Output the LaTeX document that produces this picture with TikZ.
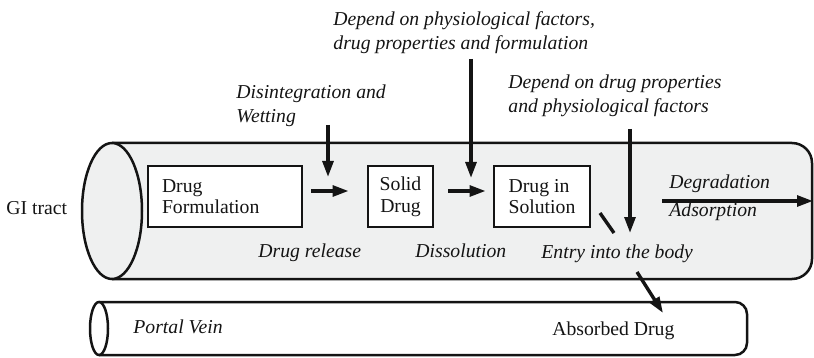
\documentclass[tikz,border=0pt]{standalone}
\usepackage{fontspec}
\setmainfont{Liberation Serif}
\usetikzlibrary{arrows.meta}
\definecolor{tubeGray}{RGB}{239,240,240}
\colorlet{Ink}{black!92}

\begin{document}
\begin{tikzpicture}[x=0.5pt,y=-0.5pt,
      tube/.style={draw=Ink,line width=1.25pt,fill=tubeGray},
      vein/.style={draw=Ink,line width=1.25pt,fill=white},
      stage/.style={draw=Ink,line width=1.4pt,fill=white,minimum height=30.5pt,
        inner sep=0pt,text=Ink,font=\fontsize{9.85}{10.8}\selectfont},
      flow/.style={-{Triangle[length=8pt,width=5.4pt]},line width=1.7pt,draw=Ink},
      note/.style={inner sep=0pt,align=left,text=Ink,font=\itshape\fontsize{9.85}{12}\selectfont},
      plain/.style={inner sep=0pt,text=Ink,font=\fontsize{9.85}{12}\selectfont}]
    \useasboundingbox (0,0) rectangle (814,358);

    % GI tract: closed far end, open end seen as an ellipse
    \draw[tube,rounded corners=10pt] (112,143) -- (812,143) -- (812,279) -- (112,279);
    \draw[tube] (112,211) ellipse [x radius=15pt,y radius=34pt];
    \node[plain,anchor=base west] (gi) at (6,214) {GI tract};

    % Portal vein below it
    \draw[vein,rounded corners=6pt] (99,302) -- (747,302) -- (747,355) -- (99,355);
    \draw[vein] (99,328.5) ellipse [x radius=4.5pt,y radius=13.25pt];
    \node[note,anchor=base west] (portal) at (133,333) {Portal Vein};
    \node[plain,anchor=base west] (absorbed) at (552,335) {Absorbed Drug};

    % Stages of the drug inside the tract
    \node[stage,minimum width=77pt,text width=63pt,align=left] (form) at (225,196.5)
      {Drug\\Formulation};
    \node[stage,minimum width=32.5pt,align=center] (solid) at (400.5,196.5) {Solid\\Drug};
    \node[stage,minimum width=48pt,align=left] (sol) at (542,196.5) {Drug in\\Solution};
    \draw[flow,shorten <=4pt,shorten >=9pt]
      ([yshift=2.75pt]form.east) -- ([yshift=2.75pt]solid.west);
    \draw[flow,shorten <=7pt,shorten >=3.5pt]
      ([yshift=2.75pt]solid.east) -- ([yshift=2.75pt]sol.west);

    \node[note,anchor=base west] (release) at (258,257) {Drug release};
    \node[note,anchor=base west] (dissol) at (415,257) {Dissolution};
    \node[note,anchor=base west] (entry) at (541,258) {Entry into the body};

    % Factors acting from outside
    \node[note,anchor=north west] (disint) at (236,84.5) {Disintegration and\\Wetting};
    \node[note,anchor=north west] (physio) at (333,11.5)
      {Depend on physiological factors,\\drug properties and formulation};
    \node[note,anchor=north west] (props) at (508,74.5)
      {Depend on drug properties\\and physiological factors};
    \coordinate (wetTop) at (328,125);
    \coordinate (wetEnd) at (328,177);
    \coordinate (physTop) at (471,59);
    \coordinate (physEnd) at (471,178);
    \coordinate (propTop) at (630,129);
    \coordinate (propEnd) at (630,233);
    \draw[flow] (wetTop) -- (wetEnd);
    \draw[flow] (physTop) -- (physEnd);
    \draw[flow] (propTop) -- (propEnd);

    % Loss and uptake
    \node[note,anchor=base west] (degr) at (669,188) {Degradation};
    \node[note,anchor=base west] (adsorp) at (669,216) {Adsorption};
    \coordinate (lossStart) at (662,201);
    \coordinate (lossEnd) at (813,201);
    \draw[flow] (lossStart) -- (lossEnd);
    \coordinate (tickA) at (600,213);
    \coordinate (tickB) at (614,233);
    \draw[line width=1.7pt,draw=Ink] (tickA) -- (tickB);
    \coordinate (entryOut) at (637,272);
    \coordinate (veinIn) at (663,313);
    \draw[flow] (entryOut) -- (veinIn);
  \end{tikzpicture}
\end{document}
